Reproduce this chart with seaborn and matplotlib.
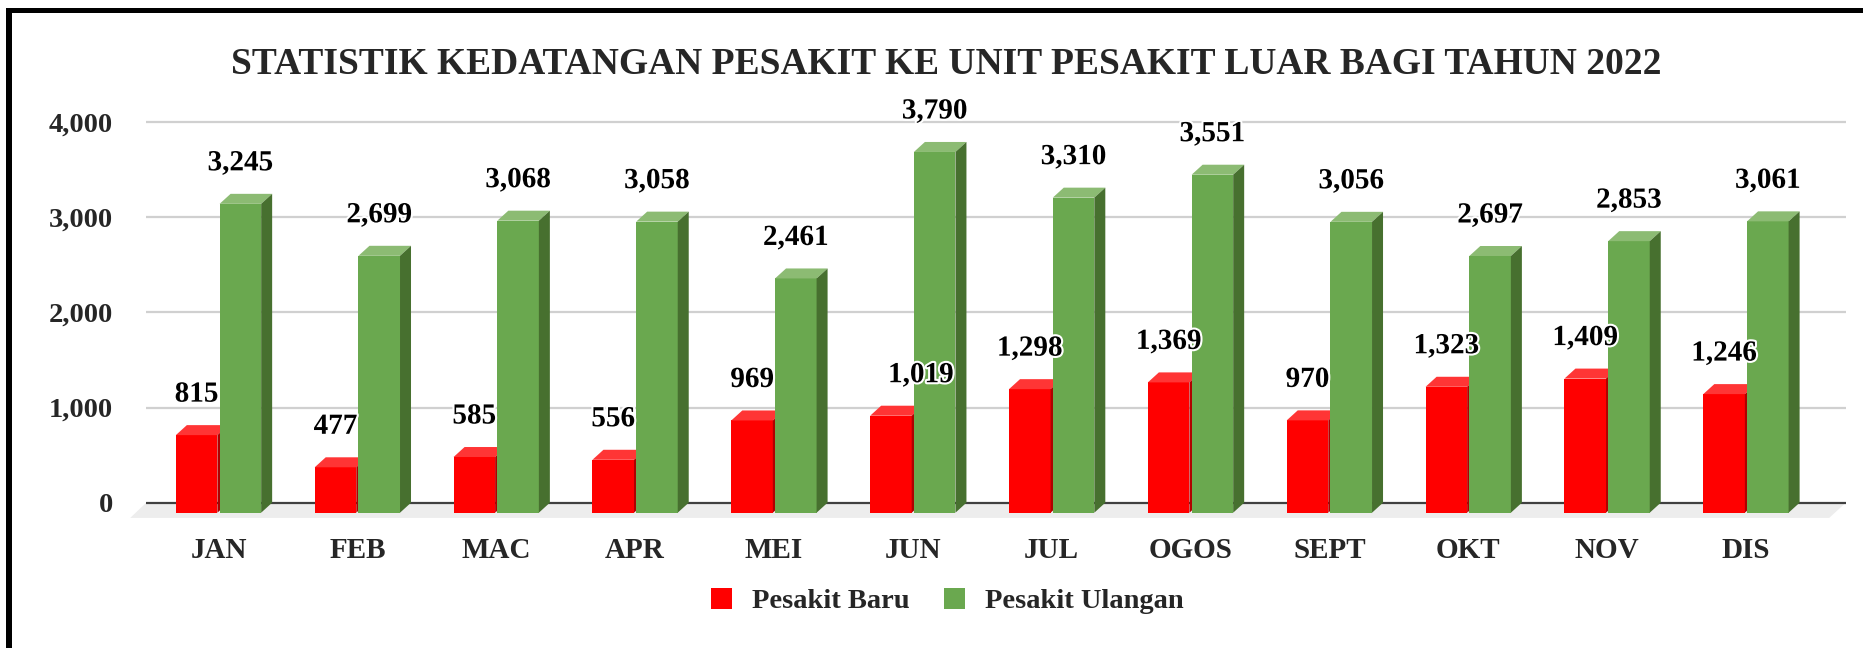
import pandas as pd
import seaborn as sns
import matplotlib.pyplot as plt
from matplotlib.patches import Polygon, Rectangle, Patch
import matplotlib.patheffects as pe

# data
months = ['JAN', 'FEB', 'MAC', 'APR', 'MEI', 'JUN', 'JUL', 'OGOS', 'SEPT', 'OKT', 'NOV', 'DIS']
pesakit_baru = [815, 477, 585, 556, 969, 1019, 1298, 1369, 970, 1323, 1409, 1246]
pesakit_ulangan = [3245, 2699, 3068, 3058, 2461, 3790, 3310, 3551, 3056, 2697, 2853, 3061]
series = ['Pesakit Baru', 'Pesakit Ulangan']
y_ticks = [0, 1000, 2000, 3000, 4000]
title = 'STATISTIK KEDATANGAN PESAKIT KE UNIT PESAKIT LUAR BAGI TAHUN 2022'

df = pd.DataFrame({
    'Bulan': months * 2,
    'Jumlah': pesakit_baru + pesakit_ulangan,
    'Kategori': [series[0]] * len(months) + [series[1]] * len(months),
})

# front / top / side colours for the fake 3D look
faces = {
    'Pesakit Baru': ('#ff0000', '#ff3535', '#b00000'),
    'Pesakit Ulangan': ('#6aa84f', '#8cbb73', '#47702f'),
}
# one data label was moved by hand in the original (pixels)
label_nudge = {('Pesakit Baru', 'JUN'): 30}

sns.set_theme(style='white')
plt.rcParams['font.family'] = ['Liberation Serif', 'DejaVu Serif']
plt.rcParams['font.weight'] = 'bold'

W, H = 1863, 648
fig = plt.figure(figsize=(W / 100, H / 100), dpi=100)
ax = fig.add_axes([120 / W, 1 - 530 / H, 1740 / W, 430 / H])

sns.barplot(data=df, x='Bulan', y='Jumlah', hue='Kategori',
            palette=[faces[s][0] for s in series], saturation=1,
            width=0.63, gap=0.05, edgecolor='none', legend=False, ax=ax)

# pixel scale of the original
px_x, px_y = 138.86, 0.09518
ax.set_xlim((120 - 218.5) / px_x, (1860 - 218.5) / px_x)
ax.set_ylim(-(530 - 502.7) / px_y, (502.7 - 100) / px_y)
dx, dy = 11 / px_x, 10 / px_y

n = len(months)
wall_l, wall_r = -0.6 + dx, n - 1 + 0.64 + dx

# floor and back wall grid
floor = Polygon([(wall_l, 0), (wall_r, 0), (wall_r - 0.12, -160), (wall_l - 0.115, -160)],
                closed=True, facecolor='#ededed', edgecolor='none', zorder=0.5)
ax.add_patch(floor)
ax.hlines(y_ticks[1:], wall_l, wall_r, color='#d0d0d0', lw=1.6, zorder=0.4)
ax.hlines(0, wall_l, wall_r, color='#404040', lw=1.6, zorder=0.6)

for j, (s, cont) in enumerate(zip(series, ax.containers)):
    front, top, side = faces[s]
    for i, bar in enumerate(cont):
        x, w, v = bar.get_x(), bar.get_width(), bar.get_height()
        bar.set_y(-dy)
        bar.set_zorder(2 + j)
        ax.add_patch(Polygon([(x, v - dy), (x + w, v - dy), (x + w + dx, v), (x + dx, v)],
                             closed=True, facecolor=top, edgecolor='none', zorder=2 + j))
        ax.add_patch(Polygon([(x + w, -dy), (x + w + dx, 0), (x + w + dx, v), (x + w, v - dy)],
                             closed=True, facecolor=side, edgecolor='none', zorder=2 + j))
        nudge = label_nudge.get((s, months[i]), 0)
        ax.annotate(f'{int(v):,}', (x + w / 2, v), xytext=(nudge, 31),
                    textcoords='offset pixels', ha='center', va='center',
                    fontsize=21, fontweight='bold', color='black', zorder=6,
                    path_effects=[pe.withStroke(linewidth=3, foreground='white')])

ax.set_yticks(y_ticks)
ax.set_yticklabels([f'{t:,}' for t in y_ticks])
ax.tick_params(axis='y', length=0, pad=5.0, labelsize=20.5)
ax.tick_params(axis='x', length=0, pad=5, labelsize=21)
for lab in ax.get_xticklabels() + ax.get_yticklabels():
    lab.set_fontweight('bold')
ax.set_xlabel('')
ax.set_ylabel('')
sns.despine(ax=ax, left=True, bottom=True)

fig.text(946 / W, 1 - 65 / H, title, ha='center', va='center', fontsize=27, fontweight='bold')

handles = [Patch(facecolor=faces[s][0], edgecolor='none') for s in series]
fig.legend(handles, series, loc='center', bbox_to_anchor=(947 / W, 1 - 601 / H), ncol=2,
           frameon=False, prop={'size': 20.5, 'weight': 'bold'},
           handlelength=0.75, handleheight=0.75, handletextpad=0.7, columnspacing=1.2)

# black frame on the left and top
fig.add_artist(Rectangle((6 / W, 0), 6 / W, (H - 8) / H, transform=fig.transFigure,
                         facecolor='black', edgecolor='none'))
fig.add_artist(Rectangle((6 / W, 1 - 13 / H), (W - 6) / W, 5 / H, transform=fig.transFigure,
                         facecolor='black', edgecolor='none'))

fig.savefig('out.png', dpi=100)
